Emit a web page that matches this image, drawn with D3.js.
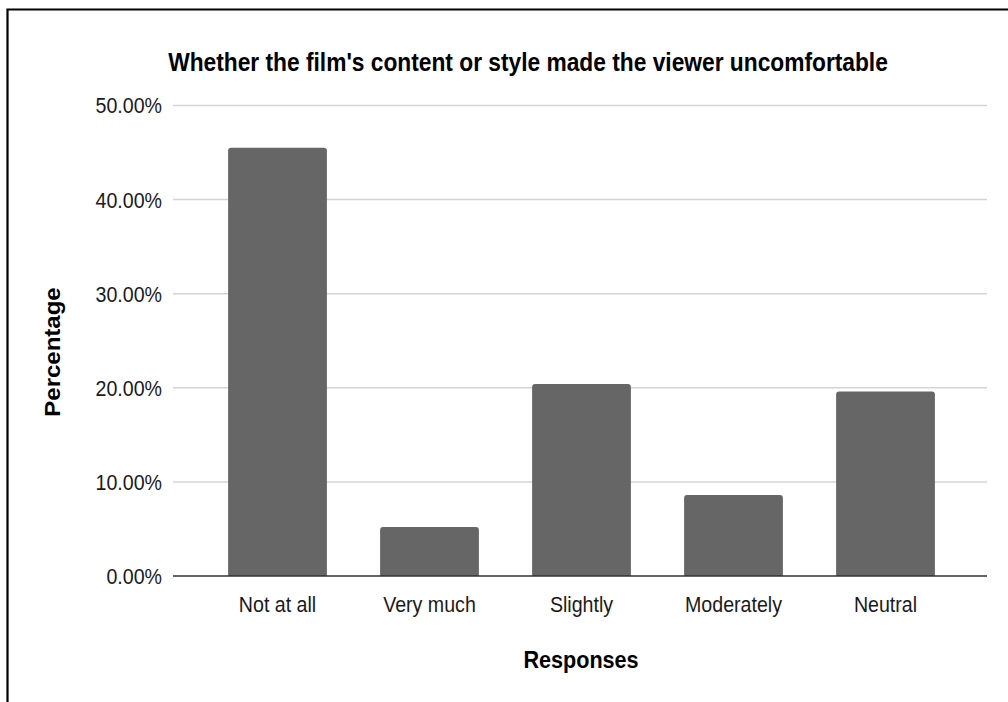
<!DOCTYPE html>
<html>
<head>
<meta charset="utf-8">
<script src="https://cdn.jsdelivr.net/npm/d3@7"></script>
<style>
  html, body { margin: 0; padding: 0; background: #fff; }
  svg { display: block; }
  text { font-family: "Liberation Sans", Arial, Helvetica, sans-serif; }
</style>
</head>
<body>
<svg id="chart" width="1008" height="702"></svg>
<script>
// Survey responses: share of viewers per answer
const categories = ["Not at all", "Very much", "Slightly", "Moderately", "Neutral"];
const percentages = [45.5, 5.2, 20.4, 8.6, 19.6];
const yTicks = [0, 10, 20, 30, 40, 50];

const titleText = "Whether the film's content or style made the viewer uncomfortable";
const xTitle = "Responses";
const yTitle = "Percentage";

const svg = d3.select("#chart");
const W = 1008, H = 702;
const squeeze = 0.9; // horizontal narrowing applied to all text

const plot = { left: 173, right: 987, top: 105.5, bottom: 576 };

// frame around the chart (top and left edges)
svg.append("path")
  .attr("d", `M7.5,${H} V9.5 H${W}`)
  .attr("fill", "none")
  .attr("stroke", "#000")
  .attr("stroke-width", 2.2);

const y = d3.scaleLinear().domain([0, 50]).range([plot.bottom, plot.top]);
const x = d3.scaleBand().domain(categories)
  .range([201.5, 961.5])
  .paddingInner(0.35)
  .paddingOuter(0.175);

// horizontal gridlines
svg.append("g")
  .selectAll("line")
  .data(yTicks.filter(t => t > 0))
  .join("line")
  .attr("x1", plot.left).attr("x2", plot.right)
  .attr("y1", d => y(d)).attr("y2", d => y(d))
  .attr("stroke", "#d4d4d4")
  .attr("stroke-width", 1.5);

// y axis tick labels
const yAxis = svg.append("g")
  .attr("transform", `translate(${plot.left},0)`)
  .call(d3.axisLeft(y).tickValues(yTicks).tickSize(0).tickPadding(0)
    .tickFormat(d => d.toFixed(2) + "%"));
yAxis.select(".domain").remove();
yAxis.selectAll("text")
  .attr("x", -11 / squeeze)
  .attr("dy", "0.34em")
  .attr("transform", `scale(${squeeze},1)`)
  .attr("fill", "#1a1a1a")
  .style("font-size", "21.8px")
  .style("font-family", "'Liberation Sans', Arial, sans-serif");

// bars with slightly rounded top corners
const r = 3;
svg.append("g")
  .selectAll("path")
  .data(categories.map((c, i) => ({ c, v: percentages[i] })))
  .join("path")
  .attr("fill", "#666666")
  .attr("d", d => {
    const x0 = x(d.c), x1 = x0 + x.bandwidth();
    const y0 = y(d.v), y1 = y(0);
    return `M${x0},${y1} V${y0 + r} Q${x0},${y0} ${x0 + r},${y0} H${x1 - r} Q${x1},${y0} ${x1},${y0 + r} V${y1} Z`;
  });

// baseline
svg.append("line")
  .attr("x1", plot.left).attr("x2", plot.right)
  .attr("y1", y(0)).attr("y2", y(0))
  .attr("stroke", "#333")
  .attr("stroke-width", 1.6);

// x axis category labels
const xAxis = svg.append("g")
  .attr("transform", `translate(0,${plot.bottom})`)
  .call(d3.axisBottom(x).tickSize(0).tickPadding(0));
xAxis.select(".domain").remove();
xAxis.selectAll(".tick text")
  .attr("y", 36)
  .attr("dy", 0)
  .attr("transform", `scale(${squeeze},1)`)
  .attr("fill", "#1a1a1a")
  .style("font-size", "21.8px")
  .style("font-family", "'Liberation Sans', Arial, sans-serif");

// title and axis titles
function squeezedText(cx, cy, str, size, rotate) {
  const g = svg.append("g")
    .attr("transform", `translate(${cx},${cy}) rotate(${rotate || 0}) scale(${rotate ? 1 : squeeze},${rotate ? squeeze : 1})`);
  g.append("text")
    .attr("text-anchor", "middle")
    .attr("font-weight", "bold")
    .attr("fill", "#000")
    .style("font-size", size + "px")
    .text(str);
}
squeezedText(528, 71, titleText, 25.3);
squeezedText(581, 668, xTitle, 24);
squeezedText(60, 352, yTitle, 24, -90);
</script>
</body>
</html>
